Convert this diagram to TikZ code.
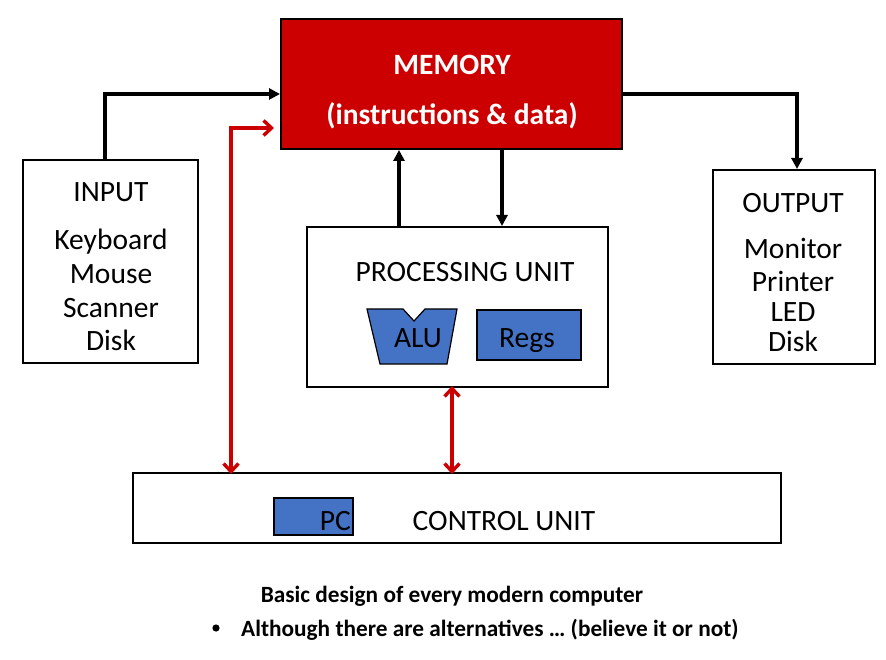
\documentclass[tikz,border=0pt]{standalone}
\usepackage{fontspec}
\setmainfont{Carlito}
\usetikzlibrary{arrows.meta}
\definecolor{memred}{HTML}{CC0000}
\definecolor{boxblue}{HTML}{4472C4}
\begin{document}
\begin{tikzpicture}[x=1pt,y=-1pt,
  blk/.style={draw=black,line width=2pt},
  txt/.style={font=\fontsize{29.5}{34}\selectfont,inner sep=0pt,anchor=base},
  blarr/.style={line width=3.2pt,-{Triangle[length=11pt,width=11pt]}},
  redarr/.style={draw=memred,line width=3.4pt,{Straight Barb[length=8pt,width=15pt,line width=3.4pt]}-{Straight Barb[length=8pt,width=15pt,line width=3.4pt]}},
  bluebox/.style={draw=black,line width=1.2pt,fill=boxblue}]
\useasboundingbox (0,0) rectangle (886,660);
% boxes
\node[blk,fill=memred,minimum width=341pt,minimum height=130pt,inner sep=0pt] (mem) at (451.5,84) {};
\node[blk,minimum width=175pt,minimum height=203pt,inner sep=0pt] (in) at (110.5,261.5) {};
\node[blk,minimum width=162pt,minimum height=194pt,inner sep=0pt] (out) at (794,267) {};
\node[blk,minimum width=301pt,minimum height=160pt,inner sep=0pt] (pu) at (457.5,307) {};
\node[blk,minimum width=648pt,minimum height=70pt,inner sep=0pt] (cu) at (457,508) {};
% memory text
\node[txt,text=white,font=\fontsize{29.5}{34}\selectfont\bfseries] (memt) at (452,75) {MEMORY};
\node[txt,text=white,font=\fontsize{29.5}{34}\selectfont\bfseries] (memt2) at (452,125) {(instructions \& data)};
% input text
\node[txt] (inT) at (111,202) {INPUT};
\node[txt] (in1) at (111,250) {Keyboard};
\node[txt] (in2) at (111,284) {Mouse};
\node[txt] (in3) at (111,317) {Scanner};
\node[txt] (in4) at (111,350) {Disk};
% output text
\node[txt] (outT) at (793,213) {OUTPUT};
\node[txt] (out1) at (793,259) {Monitor};
\node[txt] (out2) at (793,292) {Printer};
\node[txt] (out3) at (793,321) {LED};
\node[txt] (out4) at (793,351) {Disk};
% processing unit
\node[txt] (puT) at (465,282) {PROCESSING UNIT};
\draw[bluebox] (367,309) -- (403,309) -- (414,321) -- (425,309) -- (457,309) -- (447,364) -- (380,364) -- cycle;
\node[txt] (alu) at (418,347) {ALU};
\node[bluebox,minimum width=104pt,minimum height=50pt,inner sep=0pt] (regs) at (529,335) {};
\node[txt] (regsT) at (527,347) {Regs};
% control unit
\node[bluebox,minimum width=79pt,minimum height=37pt,inner sep=0pt] (pc) at (313.5,516.5) {};
\node[txt,anchor=base east] (pcT) at (351,530) {PC};
\node[txt] (cuT) at (504,530) {CONTROL UNIT};
% coordinates
\coordinate (a1) at (105,94);
\coordinate (a2) at (797,94);
\coordinate (r1) at (231,128);
% black arrows
\draw[blarr] (in.north -| a1) -- (a1) -- (mem.west |- a1);
\draw[blarr] (mem.east |- a2) -- (a2) -- (out.north -| a2);
\draw[blarr] (pu.north -| 399,0) -- (mem.south -| 399,0);
\draw[blarr] (mem.south -| 502,0) -- (pu.north -| 502,0);
% red arrows
\draw[redarr] ([yshift=-2pt]cu.north -| r1) -- (r1) -- ([xshift=-6pt]mem.west |- r1);
\draw[redarr] ([yshift=2pt]pu.south -| 452,0) -- ([yshift=-2pt]cu.north -| 452,0);
% caption
\node[txt,font=\fontsize{23.3}{27}\selectfont\bfseries] (cap1) at (452,602) {Basic design of every modern computer};
\fill (216,628) circle (3.6pt);
\node[txt,anchor=base west,font=\fontsize{23.3}{27}\selectfont\bfseries] (cap2) at (241,636) {Although there are alternatives … (believe it or not)};
\end{tikzpicture}
\end{document}
